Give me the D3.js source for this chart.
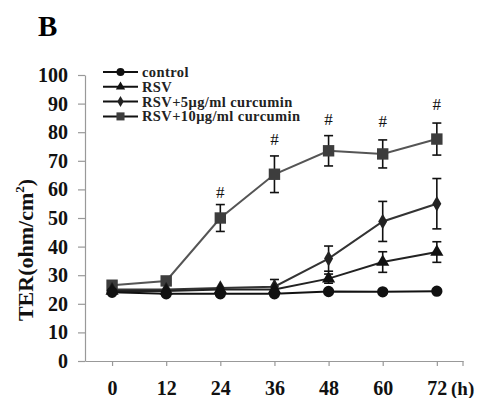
<!DOCTYPE html>
<html>
<head>
<meta charset="utf-8">
<script src="https://cdn.jsdelivr.net/npm/d3@7"></script>
<style>
  body { margin: 0; background: #fff; }
  svg { display: block; }
</style>
</head>
<body>
<div class="canvas"></div>
<script>
const hours = [0, 12, 24, 36, 48, 60, 72]
const yTicks = [0, 10, 20, 30, 40, 50, 60, 70, 80, 90, 100]
const seriesNames = ['control', 'RSV', 'RSV+5μg/ml curcumin', 'RSV+10μg/ml curcumin']

const controlMean = [24, 23.5, 23.5, 23.5, 24.3, 24.2, 24.4]
const controlErr = [0.6, 0.5, 0.5, 0.5, 0.6, 0.5, 0.5]
const rsvMean = [24.5, 24.5, 25, 25, 28.8, 34.6, 38.1]
const rsvErr = [0.6, 0.6, 0.6, 1, 1.6, 3.6, 3.6]
const rsv5Mean = [25, 25, 25.5, 26, 35.8, 48.8, 55]
const rsv5Err = [0.6, 0.6, 0.8, 2.5, 4.4, 7, 8.8]
const rsv10Mean = [26.5, 28, 50, 65.3, 73.5, 72.4, 77.6]
const rsv10Err = [0.8, 0.8, 4.7, 6.4, 5.3, 4.9, 5.6]

// where the "#" marks sit, in TER units
const sigHours = [24, 36, 48, 60, 72]
const sigAt = [59, 77.5, 84.5, 84, 90]

const width = 479, height = 398
const svg = d3.select('.canvas').append('svg')
  .attr('width', width).attr('height', height)

const x = d3.scaleLinear().domain([-6, 77.8]).range([85, 463])
const y = d3.scaleLinear().domain([0, 100]).range([361, 75])

const serif = '"Liberation Serif", "Times New Roman", serif'

svg.append('text')
  .attr('x', 38).attr('y', 36)
  .attr('font-family', serif).attr('font-weight', 'bold').attr('font-size', 29)
  .text('B')

// axes
const yAxis = svg.append('g')
  .attr('transform', `translate(${x(-6)},0)`)
  .call(d3.axisLeft(y).tickValues(yTicks).tickSize(7).tickPadding(10).tickSizeOuter(0))
const xAxis = svg.append('g')
  .attr('transform', `translate(0,${y(0)})`)
  .call(d3.axisBottom(x).tickValues(hours).tickSize(5).tickPadding(15).tickSizeOuter(0))

for (const ax of [yAxis, xAxis]) {
  ax.select('.domain').attr('stroke', '#999').attr('stroke-width', 1.2)
  ax.selectAll('.tick line').attr('stroke', '#999').attr('stroke-width', 1.2)
  ax.selectAll('text')
    .attr('font-family', serif).attr('font-weight', 'bold')
    .attr('font-size', 20).attr('fill', '#111')
}
xAxis.append('line')
  .attr('x1', x(77.8)).attr('x2', x(77.8)).attr('y1', 0).attr('y2', 5)
  .attr('stroke', '#999').attr('stroke-width', 1.2)

svg.append('text')
  .attr('x', 451).attr('y', 395)
  .attr('font-family', serif).attr('font-weight', 'bold').attr('font-size', 19)
  .attr('fill', '#111')
  .text('(h)')

const yTitle = svg.append('text')
  .attr('transform', `translate(33,${y(38.8)}) rotate(-90)`)
  .attr('text-anchor', 'middle')
  .attr('font-family', serif).attr('font-weight', 'bold').attr('font-size', 22)
  .attr('fill', '#111')
yTitle.append('tspan').text('TER(ohm/cm')
yTitle.append('tspan').attr('font-size', 13).attr('dy', -9).text('2')
yTitle.append('tspan').attr('dy', 9).text(')')

const series = [
  {name: seriesNames[0], mean: controlMean, err: controlErr, line: '#111', fill: '#111', shape: d3.symbolCircle, size: 100},
  {name: seriesNames[1], mean: rsvMean, err: rsvErr, line: '#222', fill: '#111', shape: d3.symbolTriangle, size: 75},
  {name: seriesNames[2], mean: rsv5Mean, err: rsv5Err, line: '#333', fill: '#222', shape: d3.symbolDiamond, size: 70},
  {name: seriesNames[3], mean: rsv10Mean, err: rsv10Err, line: '#555', fill: '#3d3d3d', shape: d3.symbolSquare, size: 130}
]

const line = d3.line().x((d, i) => x(hours[i])).y(d => y(d))

// draw from the top series down so the control sits on top
series.slice().reverse().forEach(s => {
  const g = svg.append('g')
  g.append('path')
    .attr('d', line(s.mean))
    .attr('fill', 'none').attr('stroke', s.line).attr('stroke-width', 2)

  s.mean.forEach((m, i) => {
    const e = s.err[i]
    if (e < 1.2) return
    const cx = x(hours[i])
    g.append('line').attr('x1', cx).attr('x2', cx).attr('y1', y(m - e)).attr('y2', y(m + e))
      .attr('stroke', '#111').attr('stroke-width', 1.6)
    for (const v of [m - e, m + e]) {
      g.append('line').attr('x1', cx - 4.5).attr('x2', cx + 4.5).attr('y1', y(v)).attr('y2', y(v))
        .attr('stroke', '#111').attr('stroke-width', 1.6)
    }
  })

  g.selectAll('path.mark').data(s.mean).join('path')
    .attr('class', 'mark')
    .attr('transform', (d, i) => `translate(${x(hours[i])},${y(d)})`)
    .attr('d', d3.symbol(s.shape, s.size))
    .attr('fill', s.fill)
})

svg.selectAll('text.sig').data(sigHours).join('text')
  .attr('class', 'sig')
  .attr('x', d => x(d)).attr('y', (d, i) => y(sigAt[i]) + 6)
  .attr('text-anchor', 'middle')
  .attr('font-family', serif).attr('font-size', 17).attr('fill', '#111')
  .text('#')

// legend
const legend = svg.append('g').attr('transform', 'translate(103,72)')
series.forEach((s, i) => {
  const row = legend.append('g').attr('transform', `translate(0,${i * 14.8})`)
  row.append('line').attr('x1', 0).attr('x2', 35).attr('y1', 0).attr('y2', 0)
    .attr('stroke', '#111').attr('stroke-width', 2)
  row.append('path').attr('transform', 'translate(17.5,0)')
    .attr('d', d3.symbol(s.shape, s.size * 0.5)).attr('fill', s.fill)
  row.append('text').attr('x', 39).attr('y', 5)
    .attr('font-family', serif).attr('font-weight', 'bold').attr('font-size', 14.5)
    .attr('letter-spacing', 0.4)
    .attr('fill', '#222')
    .text(s.name)
})
</script>
</body>
</html>
